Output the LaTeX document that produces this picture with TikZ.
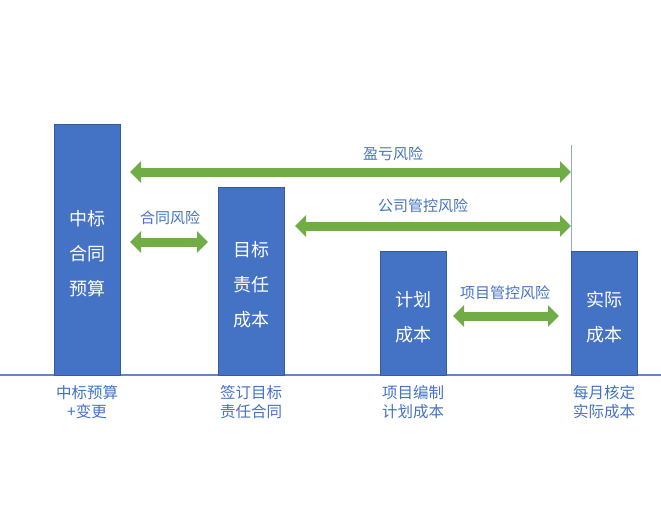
\documentclass[tikz,border=0pt]{standalone}
\usepackage{fontspec}
\setmainfont{Noto Sans CJK SC}
\usetikzlibrary{positioning, arrows.meta}

\definecolor{barblue}{HTML}{4472C4}
\definecolor{riskgreen}{HTML}{70AD47}
\definecolor{thinblue}{HTML}{8FAADC}

\begin{document}
\begin{tikzpicture}[
    x=1pt, y=-1pt,
    bar/.style={rectangle, fill=barblue, draw=barblue!80!black, line width=0.4pt, anchor=south west, minimum width=66pt, inner sep=0pt},
    bartext/.style={text=white, align=center, inner sep=0pt, yshift=-4pt, font=\fontsize{18}{35}\selectfont},
    risk/.style={{Triangle[width=21pt, length=11pt]}-{Triangle[width=21pt, length=11pt]}, line width=9pt, riskgreen},
    risklabel/.style={text=barblue, font=\fontsize{15}{18}\selectfont, inner sep=0pt},
    steplabel/.style={text=barblue, align=center, font=\fontsize{15.5}{19}\selectfont, inner sep=0pt},
]
\useasboundingbox (0,0) rectangle (661,508);

% Baseline
\coordinate (base-l) at (0,375);
\coordinate (base-r) at (661,375);
\draw[barblue!85, line width=1.5pt] (base-l) -- (base-r);

% Bars
\node[bar, minimum height=251pt] (budget) at (54,375) {};
\node[bar, minimum height=188pt] (target) at (218,375) {};
\node[bar, minimum height=124pt] (plan) at (380,375) {};
\node[bar, minimum height=124pt] (actual) at (571,375) {};
\node[bartext] (budget-txt) at (budget.center) {中标\\合同\\预算};
\node[bartext] (target-txt) at (target.center) {目标\\责任\\成本};
\node[bartext] (plan-txt) at (plan.center) {计划\\成本};
\node[bartext] (actual-txt) at (actual.center) {实际\\成本};

% Step labels under the baseline
\node[steplabel] (budget-lbl) at (87,402.5) {中标预算\\+变更};
\node[steplabel] (target-lbl) at (251,402.5) {签订目标\\责任合同};
\node[steplabel] (plan-lbl) at (413,402.5) {项目编制\\计划成本};
\node[steplabel] (actual-lbl) at (604,402.5) {每月核定\\实际成本};

% Reference line above the actual cost bar
\coordinate (ref-top) at (571,145);
\draw[thinblue, line width=0.8pt] (actual.north west) -- (ref-top);

% Risk arrows
\coordinate (yk-l) at (130,172);
\coordinate (yk-r) at (571,172);
\draw[risk] (yk-l) -- (yk-r);
\node[risklabel] (yk-lbl) at (393,154) {盈亏风险};

\coordinate (gs-l) at (295,226);
\coordinate (gs-r) at (571,226);
\draw[risk] (gs-l) -- (gs-r);
\node[risklabel] (gs-lbl) at (423,206) {公司管控风险};

\coordinate (ht-l) at (130,242);
\coordinate (ht-r) at (208,242);
\draw[risk] (ht-l) -- (ht-r);
\node[risklabel] (ht-lbl) at (170,218) {合同风险};

\coordinate (xm-l) at (453,316);
\coordinate (xm-r) at (559,316);
\draw[risk] (xm-l) -- (xm-r);
\node[risklabel] (xm-lbl) at (505,293) {项目管控风险};

\end{tikzpicture}
\end{document}
